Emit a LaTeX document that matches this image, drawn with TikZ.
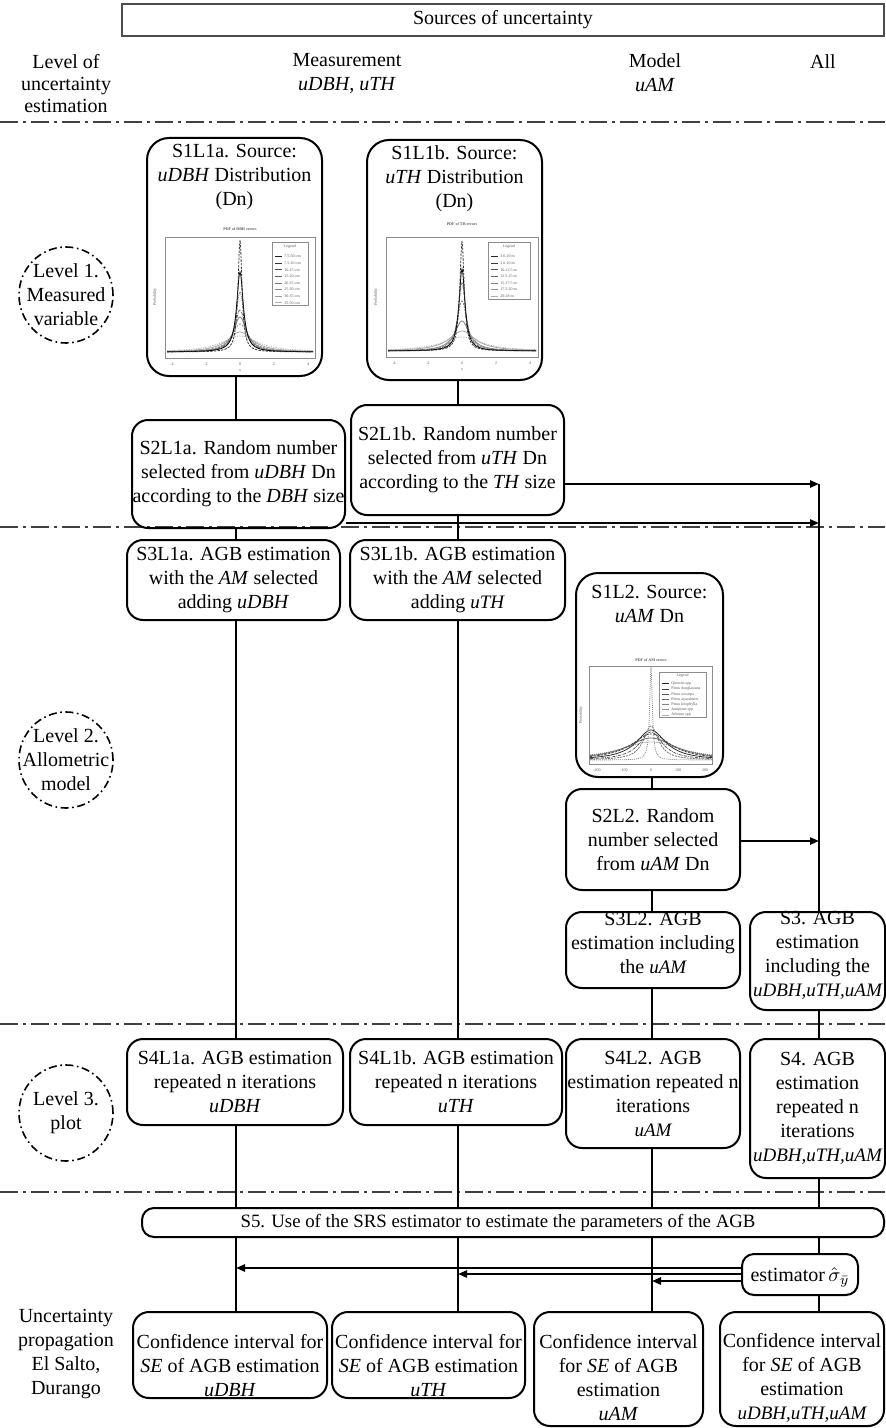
\documentclass[tikz,border=0pt]{standalone}
\usepackage{fontspec}
\setmainfont{Liberation Serif}
\usetikzlibrary{arrows.meta,shapes.geometric}
% italic symbols set like math variables
\newcommand\mv[1]{{\fontsize{9.5}{12}\selectfont\itshape #1}}
% one Cauchy-shaped density curve: centre x, base y, half domain, height, width, style
\newcommand\cauchy[6]{\draw[#6] plot[domain=-#3:#3,samples=201] ({#1+\x},{#2-#4/(1+(\x/#5)*(\x/#5))});}
\begin{document}
\begin{tikzpicture}[x=0.5pt,y=-0.5pt,
  font=\fontsize{10}{12}\selectfont,
  box/.style={draw,line width=1pt,rounded corners=8pt,inner sep=0pt,align=center},
  bigbox/.style={box,rounded corners=11pt},
  txt/.style={inner sep=0pt,align=center},
  hdrbox/.style={draw=black!70,line width=0.6pt,inner sep=0pt},
  levelsep/.style={draw=black!75,line width=1pt,dash pattern=on 9pt off 2.5pt on 1.5pt off 2.5pt},
  lvl/.style={ellipse,draw,line width=0.8pt,dash pattern=on 4pt off 1.8pt on 0.8pt off 1.8pt,inner sep=0pt,minimum width=47pt,minimum height=48pt},
  conn/.style={line width=0.8pt},
  arr/.style={line width=1pt,-{Triangle[length=4.5pt,width=3.6pt]}},
  tiny/.style={inner sep=0pt,font=\fontsize{2}{2.4}\selectfont,text=black!65},
  plotframe/.style={draw=black!45,line width=0.3pt},
  crv/.style={line width=0.4pt}
]
\useasboundingbox (0,0) rectangle (885,1428);

% ---------- column positions ----------
\coordinate (cA) at (236,0);
\coordinate (cB) at (458,0);
\coordinate (cC) at (652,0);
\coordinate (cD) at (819,0);

% ---------- heading ----------
\node[hdrbox,minimum width=381pt,minimum height=16pt] (hdr) at (503,20) {Sources of uncertainty};
\node[txt,font=\fontsize{10}{11}\selectfont] (lvlhead) at (66,84) {Level of\\uncertainty\\estimation};
\node[txt] (meas) at (347,73) {Measurement\\\textit{uDBH, uTH}};
\node[txt] (model) at (655,73) {Model\\\textit{uAM}};
\node[txt] (all) at (823,62) {All};

% ---------- level separators ----------
\draw[levelsep] (0,122) -- (885,122);
\draw[levelsep] (0,527) -- (885,527);
\draw[levelsep] (0,1024) -- (885,1024);
\draw[levelsep] (0,1192) -- (885,1192);

% ---------- level labels ----------
\node[lvl] (lv1) at (66,295) {};
\node[txt] (lv1t) at (66,295) {Level 1.\\Measured\\variable};
\node[lvl] (lv2) at (66,760) {};
\node[txt] (lv2t) at (66,760) {Level 2.\\Allometric\\model};
\node[lvl] (lv3) at (66,1113) {};
\node[txt] (lv3t) at (66,1113) {Level 3.\\plot};
\node[txt] (propt) at (66,1354) {Uncertainty\\propagation\\El Salto,\\Durango};

% ---------- step 1: sources ----------
\node[bigbox,minimum width=87.5pt,minimum height=119pt] (s1l1a) at (234.5,257) {};
\node[txt] (s1l1at) at (234.5,177) {S1L1a. Source:\\\textit{uDBH} Distribution\\(Dn)};
\node[bigbox,minimum width=87.5pt,minimum height=120pt] (s1l1b) at (454.5,260) {};
\node[txt] (s1l1bt) at (454.5,179) {S1L1b. Source:\\\textit{uTH} Distribution\\(Dn)};
\node[bigbox,minimum width=73.5pt,minimum height=102pt] (s1l2) at (649.5,675) {};
\node[txt] (s1l2t) at (649.5,604) {S1L2. Source:\\\textit{uAM} Dn};

% density plot of DBH errors
\draw[plotframe] (165,237) rectangle (315,358);
\node[tiny,font=\fontsize{2}{2.4}\selectfont\bfseries] (p1title) at (240,229) {PDF of DBH errors};
\node[tiny,rotate=90] (p1ylab) at (155,297) {Probability};
\foreach \tk/\xx [count=\i] in {-4/172,-2/206,0/240,2/274,4/308} \node[tiny] (p1tick\i) at (\xx,364) {\tk};
\node[tiny] (p1xlab) at (240,371) {x};
\cauchy{240}{352}{73}{35}{8}{crv,black!50}
\cauchy{240}{352}{73}{16}{22}{crv,black!30,dash pattern=on 0.6pt off 0.6pt}
\cauchy{240}{352}{73}{20}{15}{crv,black!35}
\cauchy{240}{352}{73}{28}{10}{crv,black!45,dash pattern=on 1pt off 0.6pt}
\cauchy{240}{352}{73}{42}{6.5}{crv,black!60,dash pattern=on 1.5pt off 0.5pt on 0.3pt off 0.5pt}
\cauchy{240}{352}{73}{60}{5}{crv,black!55,dash pattern=on 0.5pt off 0.5pt}
\cauchy{240}{352}{73}{80}{4}{crv,black}
\cauchy{240}{352}{73}{112}{2.4}{crv,black!80,dash pattern=on 1.2pt off 0.6pt}
\draw[plotframe,fill=white] (272,242) rectangle (308,305);
\node[tiny] (p1leg) at (290,246.5) {Legend};
\foreach \lab [count=\i] in {7.5-50 cm,7.5-10 cm,10-15 cm,15-20 cm,20-25 cm,25-30 cm,30-35 cm,35-50 cm} {
  \pgfmathtruncatemacro\g{95-8*\i}
  \draw[line width=0.35pt,draw=black!\g] (275,{250+6.6*\i}) -- ++(7,0);
  \node[tiny,anchor=west] (p1l\i) at (284,{250+6.6*\i}) {\lab};
}

% density plot of TH errors
\draw[plotframe] (386,237) rectangle (538,357);
\node[tiny,font=\fontsize{2}{2.4}\selectfont\bfseries] (p2title) at (462,224) {PDF of TH errors};
\node[tiny,rotate=90] (p2ylab) at (376,297) {Probability};
\foreach \tk/\xx [count=\i] in {-4/394,-2/428,0/462,2/496,4/530} \node[tiny] (p2tick\i) at (\xx,363) {\tk};
\node[tiny] (p2xlab) at (462,370) {x};
\cauchy{462}{351}{74}{30}{9}{crv,black!50}
\cauchy{462}{351}{74}{14}{24}{crv,black!30,dash pattern=on 0.6pt off 0.6pt}
\cauchy{462}{351}{74}{20}{16}{crv,black!35}
\cauchy{462}{351}{74}{50}{6}{crv,black!45,dash pattern=on 1pt off 0.6pt}
\cauchy{462}{351}{74}{68}{4.5}{crv,black!60,dash pattern=on 1.5pt off 0.5pt on 0.3pt off 0.5pt}
\cauchy{462}{351}{74}{82}{3.6}{crv,black}
\cauchy{462}{351}{74}{110}{2.6}{crv,black!80,dash pattern=on 1.2pt off 0.6pt}
\draw[plotframe,fill=white] (488,242) rectangle (530,299);
\node[tiny] (p2leg) at (509,246.5) {Legend};
\foreach \lab [count=\i] in {3.6-20 m,3.6-10 m,10-12.5 m,12.5-15 m,15-17.5 m,17.5-20 m,20-28 m} {
  \pgfmathtruncatemacro\g{95-9*\i}
  \draw[line width=0.35pt,draw=black!\g] (491,{250+6.6*\i}) -- ++(7,0);
  \node[tiny,anchor=west] (p2l\i) at (500,{250+6.6*\i}) {\lab};
}

% density plot of AM errors
\draw[plotframe] (589,666) rectangle (712,764);
\node[tiny,font=\fontsize{2}{2.4}\selectfont\bfseries] (p3title) at (651,660) {PDF of AM errors};
\node[tiny,rotate=90] (p3ylab) at (581,715) {Probability};
\foreach \tk/\xx [count=\i] in {-200/597,-100/624,0/651,100/678,200/705} \node[tiny] (p3tick\i) at (\xx,770) {\tk};
\cauchy{651}{760}{61}{18}{38}{crv,black!50,dash pattern=on 0.5pt off 0.5pt}
\cauchy{651}{760}{61}{22}{30}{crv,black!60}
\cauchy{651}{760}{61}{26}{24}{crv,black!70,dash pattern=on 1.2pt off 0.6pt}
\cauchy{651}{760}{61}{30}{18}{crv,black!80}
\cauchy{651}{760}{61}{28}{14}{crv,black!65,dash pattern=on 1.5pt off 0.5pt on 0.3pt off 0.5pt}
\cauchy{651}{760}{61}{34}{9}{crv,black!55,dash pattern=on 1pt off 0.5pt}
\cauchy{651}{760}{61}{93}{1.6}{crv,black!45,dash pattern=on 0.5pt off 0.5pt}
\draw[plotframe,fill=white] (659,672) rectangle (706,717);
\node[tiny] (p3leg) at (682.5,676) {Legend};
\foreach \lab [count=\i] in {Quercus spp,Pinus douglasiana,Pinus oocarpa,Pinus ayacahuite,Pinus leiophylla,Juniperus spp,Arbutus spp} {
  \pgfmathtruncatemacro\g{95-9*\i}
  \draw[line width=0.35pt,draw=black!\g] (662,{678.5+5.2*\i}) -- ++(7,0);
  \node[tiny,anchor=west] (p3l\i) at (671,{678.5+5.2*\i}) {\lab};
}

% ---------- steps 2 to 4 ----------
\node[box,minimum width=106.5pt,minimum height=54pt] (s2l1a) at (238.5,474) {S2L1a. Random number\\selected from \textit{uDBH} Dn\\according to the \textit{DBH} size};
\node[box,minimum width=106.5pt,minimum height=55pt] (s2l1b) at (457.5,460) {S2L1b. Random number\\selected from \textit{uTH} Dn\\according to the \textit{TH} size};
\node[box,minimum width=106.5pt,minimum height=40pt] (s3l1a) at (233.5,580) {S3L1a. AGB estimation\\with the \textit{AM} selected\\adding \textit{uDBH}};
\node[box,minimum width=107.5pt,minimum height=40pt] (s3l1b) at (457.5,580) {S3L1b. AGB estimation\\with the \textit{AM} selected\\adding \mv{uTH}};
\node[box,minimum width=87pt,minimum height=50.5pt] (s2l2) at (653,839.5) {S2L2. Random\\number selected\\from \textit{uAM} Dn};
\node[box,minimum width=87pt,minimum height=38pt] (s3l2) at (653,950) {};
\node[txt] (s3l2t) at (653,943) {S3L2. AGB\\estimation including\\the \mv{uAM}};
\node[box,minimum width=67.5pt,minimum height=49pt] (s3) at (817.5,961) {};
\node[txt] (s3t) at (817.5,955) {S3. AGB\\estimation\\including the\\\mv{uDBH,uTH,uAM}};
\node[box,minimum width=108pt,minimum height=43pt] (s4l1a) at (235,1082) {S4L1a. AGB estimation\\repeated n iterations\\\textit{uDBH}};
\node[box,minimum width=106pt,minimum height=43pt] (s4l1b) at (456,1082) {S4L1b. AGB estimation\\repeated n iterations\\\textit{uTH}};
\node[box,minimum width=87pt,minimum height=54.5pt] (s4l2) at (653,1093.5) {S4L2. AGB\\estimation repeated n\\iterations\\\mv{uAM}};
\node[box,minimum width=67.5pt,minimum height=69.5pt] (s4) at (817.5,1108.5) {S4. AGB\\estimation\\repeated n\\iterations\\\mv{uDBH,uTH,uAM}};

% ---------- step 5 and results ----------
\node[box,rounded corners=6pt,minimum width=371pt,minimum height=14.5pt] (s5) at (513,1222.5) {};
\node[txt,font=\fontsize{9.4}{12}\selectfont] (s5t) at (498,1223) {S5. Use of the SRS estimator to estimate the parameters of the AGB};
\node[box,rounded corners=6pt,minimum width=58pt,minimum height=20.5pt] (est) at (800,1274.5) {};
\node[txt] (estt) at (800,1277) {estimator\,$\hat{\sigma}_{\bar{y}}$};
\node[box,minimum width=97pt,minimum height=43pt] (b1) at (230,1355) {};
\node[txt] (b1t) at (230,1366) {Confidence interval for\\\textit{SE} of AGB estimation\\\textit{uDBH}};
\node[box,minimum width=96.5pt,minimum height=43pt] (b2) at (428.5,1355) {};
\node[txt] (b2t) at (428.5,1366) {Confidence interval for\\\textit{SE} of AGB estimation\\\textit{uTH}};
\node[box,minimum width=84.5pt,minimum height=57pt] (b3) at (618.5,1369) {};
\node[txt] (b3t) at (618.5,1378) {Confidence interval\\for \textit{SE} of AGB\\estimation\\\textit{uAM}};
\node[box,minimum width=82pt,minimum height=57pt] (b4) at (802,1369) {};
\node[txt] (b4t) at (802,1378) {Confidence interval\\for \textit{SE} of AGB\\estimation\\\mv{uDBH,uTH,uAM}};

% ---------- connectors ----------
\draw[conn] (s1l1a.south -| cA) -- (s2l1a.north -| cA);
\draw[conn] (s2l1a.south -| cA) -- (s3l1a.north -| cA);
\draw[conn] (s3l1a.south -| cA) -- (s4l1a.north -| cA);
\draw[conn] (s4l1a.south -| cA) -- (s5.north -| cA);
\draw[conn] (s5.south -| cA) -- (b1.north -| cA);
\draw[conn] (s1l1b.south -| cB) -- (s2l1b.north -| cB);
\draw[conn] (s2l1b.south -| cB) -- (s3l1b.north -| cB);
\draw[conn] (s3l1b.south -| cB) -- (s4l1b.north -| cB);
\draw[conn] (s4l1b.south -| cB) -- (s5.north -| cB);
\draw[conn] (s5.south -| cB) -- (b2.north -| cB);
\draw[conn] (s1l2.south -| cC) -- (s2l2.north -| cC);
\draw[conn] (s2l2.south -| cC) -- (s3l2.north -| cC);
\draw[conn] (s3l2.south -| cC) -- (s4l2.north -| cC);
\draw[conn] (s4l2.south -| cC) -- (s5.north -| cC);
\draw[conn] (s5.south -| cC) -- (b3.north -| cC);
\coordinate (allTop) at (819,484);
\draw[conn] (allTop) -- (s3.north -| cD);
\draw[conn] (s3.south -| cD) -- (s4.north -| cD);
\draw[conn] (s4.south -| cD) -- (s5.north -| cD);
\draw[conn] (s5.south -| cD) -- (est.north -| cD);
\draw[conn] (est.south -| cD) -- (b4.north -| cD);

% ---------- arrows ----------
\coordinate (inB) at (819,523);
\coordinate (inC) at (819,841);
\draw[arr] (s2l1b.east |- allTop) -- (allTop);
\draw[arr] (s2l1a.east |- inB) -- (inB);
\draw[arr] (s2l2.east |- inC) -- (inC);
\coordinate (outA) at (236,1268);
\coordinate (outB) at (458,1274);
\coordinate (outC) at (652,1281);
\draw[arr] (est.west |- outA) -- (outA);
\draw[arr] (est.west |- outB) -- (outB);
\draw[arr] (est.west |- outC) -- (outC);
\end{tikzpicture}
\end{document}
